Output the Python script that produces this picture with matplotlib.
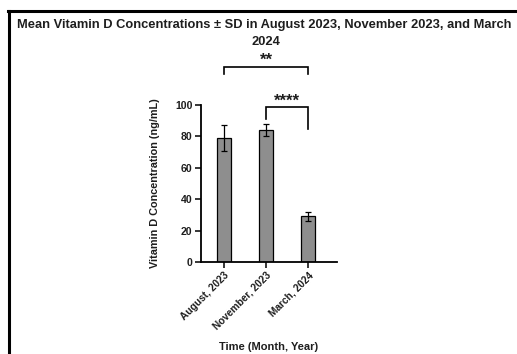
import matplotlib
matplotlib.use("Agg")
import matplotlib.pyplot as plt
from matplotlib.lines import Line2D

# Data
categories = ["August, 2023", "November, 2023", "March, 2024"]
means = [79.0, 84.0, 29.0]
sds = [8.5, 4.0, 2.8]
y_ticks = [0, 20, 40, 60, 80, 100]

# Significance brackets: (left bar, right bar, bar height, left leg end, right leg end, label, label y)
brackets = [
    (0, 2, 124.0, 120.0, 120.0, "**", 128.5),
    (1, 2, 98.7, 91.0, 85.0, "****", 102.5),
]

plt.rcParams["font.family"] = ["Liberation Sans", "DejaVu Sans"]
txt = "#1e1e1e"

fig = plt.figure(figsize=(5.17, 3.54), dpi=100)
fig.patch.set_facecolor("white")

# Frame lines along the top and left edges
fig.add_artist(Line2D([8 / 517, 1.0], [1 - 11 / 354, 1 - 11 / 354],
                      transform=fig.transFigure, color="black", lw=2.2))
fig.add_artist(Line2D([9 / 517, 9 / 517], [0.0, 1 - 11 / 354],
                      transform=fig.transFigure, color="black", lw=2.2))

fig.text(17 / 517, 1 - 25 / 354,
         "Mean Vitamin D Concentrations \u00b1 SD in August 2023, November 2023, and March",
         ha="left", va="center", fontsize=9.3, fontweight="bold", color=txt)
fig.text(266 / 517, 1 - 42 / 354, "2024",
         ha="center", va="center", fontsize=9.3, fontweight="bold", color=txt)

ax = fig.add_axes([201 / 517, 1 - 262 / 354, 136 / 517, 157 / 354])
x = list(range(len(categories)))
ax.bar(x, means, width=0.33, color="#8e8e8e", edgecolor="black", linewidth=0.9, zorder=2)
ax.errorbar(x, means, yerr=sds, fmt="none", ecolor="black", elinewidth=0.9,
            capsize=2.5, capthick=0.9, zorder=3)

ax.set_xlim(-0.55, 2.69)
ax.set_ylim(0, 100)
ax.set_yticks(y_ticks)
ax.set_xticks(x)
ax.set_xticklabels(categories, rotation=45, ha="right", rotation_mode="anchor",
                   fontsize=7.3, fontweight="bold", color=txt)
for lbl in ax.get_yticklabels():
    lbl.set_fontsize(7.6)
    lbl.set_fontweight("bold")
    lbl.set_color(txt)
ax.tick_params(axis="both", length=4, width=1.1, color="black", pad=2)
for side in ["top", "right"]:
    ax.spines[side].set_visible(False)
for side in ["left", "bottom"]:
    ax.spines[side].set_linewidth(1.3)

ax.set_ylabel("Vitamin D Concentration (ng/mL)", fontsize=7.8, fontweight="bold",
              color=txt, labelpad=11)
ax.set_xlabel("Time (Month, Year)", fontsize=8, fontweight="bold", color=txt, labelpad=7)

for i, j, top, lleg, rleg, label, ly in brackets:
    ax.plot([i, i, j, j], [lleg, top, top, rleg], color="black", lw=1.2,
            clip_on=False, solid_joinstyle="miter")
    ax.text((i + j) / 2, ly, label, ha="center", va="center", fontsize=12,
            fontweight="bold", color=txt, clip_on=False)

fig.savefig("out.png", dpi=100, facecolor="white")
